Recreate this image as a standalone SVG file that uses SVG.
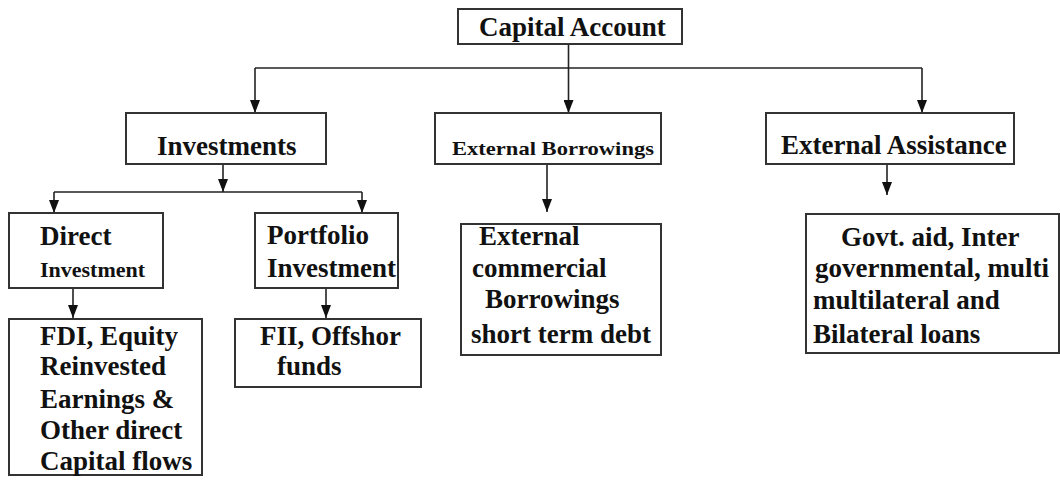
<svg xmlns="http://www.w3.org/2000/svg" width="1060" height="481" viewBox="0 0 1060 481">
  <style>
    .box { fill: #ffffff; stroke: #333333; stroke-width: 2; }
    .t { font-family: "Liberation Serif", "Times New Roman", serif; font-weight: bold; font-size: 27px; fill: #111111; }
    .conn { fill: none; stroke: #222222; stroke-width: 1.6; }
  </style>
  <defs>
    <marker id="arr" viewBox="0 0 13 10" refX="13" refY="5" markerWidth="13" markerHeight="10" markerUnits="userSpaceOnUse" orient="auto">
      <path d="M0,0 L13,5 L0,10 z" fill="#111111"/>
    </marker>
  </defs>
  <rect width="1060" height="481" fill="#ffffff"/>

  <g id="connectors">
    <path class="conn" d="M568.5,44 V113" marker-end="url(#arr)"/>
    <path class="conn" d="M255,68 H922"/>
    <path class="conn" d="M255,68 V113" marker-end="url(#arr)"/>
    <path class="conn" d="M922,68 V113" marker-end="url(#arr)"/>
    <path class="conn" d="M223,164 V192" marker-end="url(#arr)"/>
    <path class="conn" d="M54,192 H362"/>
    <path class="conn" d="M54,192 V213" marker-end="url(#arr)"/>
    <path class="conn" d="M362,192 V213" marker-end="url(#arr)"/>
    <path class="conn" d="M547,164 V212" marker-end="url(#arr)"/>
    <path class="conn" d="M887,164 V195" marker-end="url(#arr)"/>
    <path class="conn" d="M73,288 V318" marker-end="url(#arr)"/>
    <path class="conn" d="M326,288 V318" marker-end="url(#arr)"/>
  </g>

  <g id="capital-account">
    <rect class="box" x="458" y="9" width="224" height="35"/>
    <text class="t" x="479" y="36">Capital Account</text>
  </g>

  <g id="investments">
    <rect class="box" x="126" y="113" width="200" height="51"/>
    <text class="t" x="157" y="155">Investments</text>
  </g>

  <g id="external-borrowings">
    <rect class="box" x="435" y="113" width="226" height="51"/>
    <text class="t" x="452" y="155" font-size="19" textLength="202" lengthAdjust="spacingAndGlyphs" style="font-size:19px">External Borrowings</text>
  </g>

  <g id="external-assistance">
    <rect class="box" x="766" y="113" width="248" height="51"/>
    <text class="t" x="781" y="154">External Assistance</text>
  </g>

  <g id="direct-investment">
    <rect class="box" x="9" y="213" width="154" height="75"/>
    <text class="t" x="40" y="245">Direct</text>
    <text class="t" x="40" y="277" style="font-size:22px">Investment</text>
  </g>

  <g id="portfolio-investment">
    <rect class="box" x="255" y="213" width="143" height="75"/>
    <text class="t" x="267" y="244">Portfolio</text>
    <text class="t" x="267" y="277">Investment</text>
  </g>

  <g id="fdi">
    <rect class="box" x="9" y="319" width="193" height="156"/>
    <text class="t" x="40" y="345">FDI, Equity</text>
    <text class="t" x="40" y="375">Reinvested</text>
    <text class="t" x="40" y="408">Earnings &amp;</text>
    <text class="t" x="40" y="439">Other direct</text>
    <text class="t" x="40" y="470">Capital flows</text>
  </g>

  <g id="fii">
    <rect class="box" x="235" y="319" width="186" height="68"/>
    <text class="t" x="260" y="345">FII, Offshor</text>
    <text class="t" x="277" y="375">funds</text>
  </g>

  <g id="ecb">
    <rect class="box" x="461" y="224" width="200" height="131"/>
    <text class="t" x="479" y="245">External</text>
    <text class="t" x="472" y="277">commercial</text>
    <text class="t" x="485" y="308">Borrowings</text>
    <text class="t" x="471" y="343">short term debt</text>
  </g>

  <g id="govt-aid">
    <rect class="box" x="806" y="214" width="253" height="139"/>
    <text class="t" x="841" y="246">Govt. aid, Inter</text>
    <text class="t" x="815" y="277">governmental, multi</text>
    <text class="t" x="813" y="309">multilateral and</text>
    <text class="t" x="813" y="343">Bilateral loans</text>
  </g>
</svg>
